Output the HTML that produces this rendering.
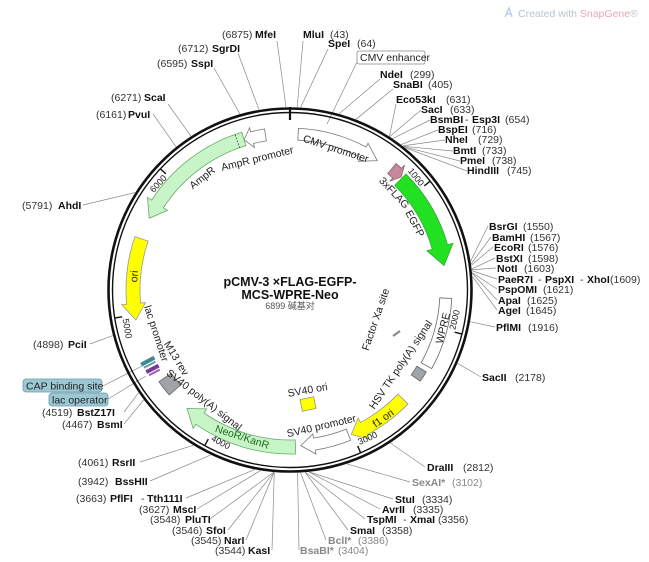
<!DOCTYPE html>
<html><head><meta charset="utf-8"><style>
html,body{margin:0;padding:0;background:#fff}
svg{display:block;font-family:"Liberation Sans","Noto Sans CJK SC",sans-serif}
.n{font-size:10.5px;fill:#333}
.b{font-size:10.5px;font-weight:bold;fill:#111}
.g{font-size:10.5px;font-weight:bold;fill:#888}
.gn{font-size:10.5px;fill:#888}
.f{font-size:10.5px;fill:#222}
.t{font-size:9px;fill:#222}
.l{stroke:#888;stroke-width:0.7;fill:none}
</style></head><body>
<svg id="s" width="649" height="562" viewBox="0 0 649 562" xmlns="http://www.w3.org/2000/svg">
<g id="shapes"></g>
<g id="lines"></g>
<circle cx="290" cy="290" r="181.5" fill="none" stroke="#111" stroke-width="2.6"/>
<circle cx="290" cy="290" r="177.5" fill="none" stroke="#111" stroke-width="1.4"/>
<line x1="290" y1="107" x2="290" y2="120" stroke="#111" stroke-width="2.2"/>

<!-- header -->
<text x="518" y="17" style="font-size:10.5px;fill:#b8c4d0">Created with <tspan fill="#e8a8b0">SnapGene</tspan>®</text>
<path d="M505 17 L509 8 L512 17 M507 14 L511 14" stroke="#b8d0e8" stroke-width="1.5" fill="none"/>

<!-- title -->
<text x="290" y="286" text-anchor="middle" style="font-size:12.5px;font-weight:bold;fill:#111">pCMV-3 ×FLAG-EGFP-</text>
<text x="290" y="299" text-anchor="middle" style="font-size:12.5px;font-weight:bold;fill:#111">MCS-WPRE-Neo</text>
<text x="290" y="309" text-anchor="middle" style="font-size:9px;fill:#555">6899 碱基对</text>

<!-- feature labels -->
<g class="f">
<text x="290" y="145" text-anchor="middle" transform="rotate(18 290 290)">CMV promoter</text>
<text x="290" y="158" text-anchor="middle" transform="rotate(-14 290 290)">AmpR promoter</text>
<text x="290" y="151" text-anchor="middle" transform="rotate(-38 290 290)">AmpR</text>
<text x="290" y="151" text-anchor="middle" transform="rotate(47 290 290)">3xFLAG</text>
<text x="290" y="152" text-anchor="middle" transform="rotate(62 290 290)">EGFP</text>
<text x="290" y="451" text-anchor="middle" transform="rotate(-76 290 290)">WPRE</text>
<text x="290" y="427" text-anchor="middle" transform="rotate(-56 290 290)">HSV TK poly(A) signal</text>
<text x="290" y="384" text-anchor="middle" transform="rotate(-71 290 290)">Factor Xa site</text>
<text x="290" y="452" text-anchor="middle" transform="rotate(-36 290 290)">f1 ori</text>
<text x="290" y="433" text-anchor="middle" transform="rotate(-13 290 290)">SV40 promoter</text>
<text x="290" y="395" text-anchor="middle" transform="rotate(-10 290 290)">SV40 ori</text>
<text x="290" y="448" text-anchor="middle" transform="rotate(18 290 290)" style="fill:#1a6a1a">NeoR/KanR</text>
<text x="290" y="433" text-anchor="middle" transform="rotate(38 290 290)">SV40 poly(A) signal</text>
<text x="290" y="426" text-anchor="middle" transform="rotate(59 290 290)">M13 rev</text>
<text x="290" y="434" text-anchor="middle" transform="rotate(72 290 290)">lac promoter</text>
<text x="290" y="137" text-anchor="middle" transform="rotate(-85 290 290)">ori</text>
</g>
<!-- tick labels -->
<g class="t">
<text x="290" y="124" text-anchor="end" transform="rotate(51.5 290 290)">1000</text>
<text x="290" y="460" text-anchor="start" transform="rotate(-76.3 290 290)">2000</text>
<text x="290" y="460" text-anchor="start" transform="rotate(-24.2 290 290)">3000</text>
<text x="290" y="460" text-anchor="start" transform="rotate(27.9 290 290)">4000</text>
<text x="290" y="460" text-anchor="start" transform="rotate(80.1 290 290)">5000</text>
<text x="290" y="124" text-anchor="end" transform="rotate(312.3 290 290)">6000</text>
</g>

<!-- CMV enhancer / lac boxes -->
<rect x="357" y="51" width="68" height="13" rx="2" fill="#fff" stroke="#888" stroke-width="0.8"/>
<text x="360" y="61" class="f">CMV enhancer</text>
<rect x="23" y="379" width="79" height="13" rx="3" fill="#9cc8d4" stroke="#6a9aa8" stroke-width="0.8"/>
<text x="26" y="389.5" class="f">CAP binding site</text>
<rect x="49" y="393" width="59" height="13" rx="3" fill="#9cc8d4" stroke="#6a9aa8" stroke-width="0.8"/>
<text x="52" y="403.5" class="f">lac operator</text>

<!-- SV40 ori square -->
<rect x="301" y="398" width="14" height="12" fill="#ffff00" stroke="#888" stroke-width="0.7" transform="rotate(-12 308 404)"/>
<line x1="393" y1="336" x2="400" y2="331" stroke="#888" stroke-width="2"/>
<!-- lac small marks -->
<g transform="rotate(-28 152 368)">
<rect x="144" y="358" width="15" height="4" fill="#3a8a90"/>
<rect x="145" y="363" width="13" height="2" fill="#6a9aa8"/>
<rect x="145" y="367" width="14" height="4" fill="#7a3a9a"/>
<rect x="146" y="372" width="12" height="2" fill="#9a5aba"/>
</g>

<!-- enzyme labels -->
<text x="222" y="38" class="n">(6875)</text><text x="255" y="38" class="b">MfeI</text>
<text x="303" y="38" class="b">MluI</text><text x="330" y="38" class="n">(43)</text>
<text x="328" y="47" class="b">SpeI</text><text x="357" y="47" class="n">(64)</text>
<text x="380" y="78" class="b">NdeI</text><text x="410" y="78" class="n">(299)</text>
<text x="393" y="88" class="b">SnaBI</text><text x="428" y="88" class="n">(405)</text>
<text x="396" y="103" class="b">Eco53kI</text><text x="446" y="103" class="n">(631)</text>
<text x="421" y="113" class="b">SacI</text><text x="450" y="113" class="n">(633)</text>
<text x="430" y="123" class="b">BsmBI</text><text x="465" y="123" class="n">-</text><text x="472" y="123" class="b">Esp3I</text><text x="505" y="123" class="n">(654)</text>
<text x="438" y="133" class="b">BspEI</text><text x="472" y="133" class="n">(716)</text>
<text x="445" y="143" class="b">NheI</text><text x="478" y="143" class="n">(729)</text>
<text x="453" y="154" class="b">BmtI</text><text x="482" y="154" class="n">(733)</text>
<text x="460" y="164" class="b">PmeI</text><text x="492" y="164" class="n">(738)</text>
<text x="467" y="174" class="b">HindIII</text><text x="507" y="174" class="n">(745)</text>
<text x="489" y="230" class="b">BsrGI</text><text x="523" y="230" class="n">(1550)</text>
<text x="492" y="241" class="b">BamHI</text><text x="530" y="241" class="n">(1567)</text>
<text x="494" y="251" class="b">EcoRI</text><text x="528" y="251" class="n">(1576)</text>
<text x="496" y="262" class="b">BstXI</text><text x="528" y="262" class="n">(1598)</text>
<text x="497" y="272" class="b">NotI</text><text x="524" y="272" class="n">(1603)</text>
<text x="498" y="283" class="b">PaeR7I</text><text x="538" y="283" class="n">-</text><text x="545" y="283" class="b">PspXI</text><text x="580" y="283" class="n">-</text><text x="587" y="283" class="b">XhoI</text><text x="610" y="283" class="n">(1609)</text>
<text x="498" y="293" class="b">PspOMI</text><text x="543" y="293" class="n">(1621)</text>
<text x="498" y="304" class="b">ApaI</text><text x="527" y="304" class="n">(1625)</text>
<text x="498" y="314" class="b">AgeI</text><text x="526" y="314" class="n">(1645)</text>
<text x="496" y="331" class="b">PflMI</text><text x="528" y="331" class="n">(1916)</text>
<text x="482" y="381" class="b">SacII</text><text x="515" y="381" class="n">(2178)</text>
<text x="427" y="471" class="b">DraIII</text><text x="463" y="471" class="n">(2812)</text>
<text x="412" y="486" class="g">SexAI*</text><text x="452" y="486" class="gn">(3102)</text>
<text x="395" y="503" class="b">StuI</text><text x="422" y="503" class="n">(3334)</text>
<text x="382" y="513" class="b">AvrII</text><text x="413" y="513" class="n">(3335)</text>
<text x="367" y="523" class="b">TspMI</text><text x="403" y="523" class="n">-</text><text x="410" y="523" class="b">XmaI</text><text x="438" y="523" class="n">(3356)</text>
<text x="350" y="534" class="b">SmaI</text><text x="382" y="534" class="n">(3358)</text>
<text x="328" y="544" class="g">BclI*</text><text x="358" y="544" class="gn">(3386)</text>
<text x="300" y="554" class="g">BsaBI*</text><text x="338" y="554" class="gn">(3404)</text>
<text x="215" y="554" class="n">(3544)</text><text x="248" y="554" class="b">KasI</text>
<text x="191" y="544" class="n">(3545)</text><text x="224" y="544" class="b">NarI</text>
<text x="172" y="534" class="n">(3546)</text><text x="206" y="534" class="b">SfoI</text>
<text x="150" y="523" class="n">(3548)</text><text x="185" y="523" class="b">PluTI</text>
<text x="139" y="513" class="n">(3627)</text><text x="173" y="513" class="b">MscI</text>
<text x="76" y="502" class="n">(3663)</text><text x="110" y="502" class="b">PflFI</text><text x="141" y="502" class="n">-</text><text x="147" y="502" class="b">Tth111I</text>
<text x="78" y="485" class="n">(3942)</text><text x="115" y="485" class="b">BssHII</text>
<text x="78" y="466" class="n">(4061)</text><text x="112" y="466" class="b">RsrII</text>
<text x="62" y="428" class="n">(4467)</text><text x="97" y="428" class="b">BsmI</text>
<text x="42" y="416" class="n">(4519)</text><text x="77" y="416" class="b">BstZ17I</text>
<text x="33" y="348" class="n">(4898)</text><text x="68" y="348" class="b">PciI</text>
<text x="22" y="209" class="n">(5791)</text><text x="58" y="209" class="b">AhdI</text>
<text x="96" y="118" class="n">(6161)</text><text x="128" y="118" class="b">PvuI</text>
<text x="111" y="101" class="n">(6271)</text><text x="144" y="101" class="b">ScaI</text>
<text x="157" y="67" class="n">(6595)</text><text x="191" y="67" class="b">SspI</text>
<text x="178" y="52" class="n">(6712)</text><text x="212" y="52" class="b">SgrDI</text>
</svg>
<script>
(function(){
var NS="http://www.w3.org/2000/svg";
function P(t,r){var a=t*Math.PI/180;return [(290+r*Math.sin(a)).toFixed(2),(290-r*Math.cos(a)).toFixed(2)];}
function add(g,tag,attrs){var e=document.createElementNS(NS,tag);for(var k in attrs)e.setAttribute(k,attrs[k]);document.getElementById(g).appendChild(e);return e;}
function arc(t1,t2,r){var p=P(t2,r);var large=Math.abs(t2-t1)>180?1:0;var sw=t2>t1?1:0;return " A"+r+" "+r+" 0 "+large+" "+sw+" "+p[0]+" "+p[1];}
function arrow(t1,t2,ri,ro,h,fill,stroke){
 var dir=t2>t1?1:-1,tb=t2-dir*h,m=(ri+ro)/2,e=(ro-ri)*0.35;
 var s=P(t1,ro),d="M"+s[0]+" "+s[1]+arc(t1,tb,ro);
 var a=P(tb,ro+e),tip=P(t2,m),b=P(tb,ri-e),c=P(tb,ri);
 d+=" L"+a.join(" ")+" L"+tip.join(" ")+" L"+b.join(" ")+" L"+c.join(" ")+arc(tb,t1,ri)+" Z";
 add("shapes","path",{d:d,fill:fill,stroke:stroke||"#666","stroke-width":0.8});
}
function box(t1,t2,ri,ro,fill){
 var s=P(t1,ro),c=P(t2,ri);
 var d="M"+s.join(" ")+arc(t1,t2,ro)+" L"+c.join(" ")+arc(t2,t1,ri)+" Z";
 add("shapes","path",{d:d,fill:fill,stroke:"#666","stroke-width":0.8});
}
arrow(3,34,150,162,6,"#fff","#777");
arrow(-9,-17,151,163,3,"#fff","#777");
arrow(-17,-63,151,165,6,"#c8f5c8","#6a6");
arrow(289,259,150,164,6,"#ffff00","#999");
arrow(45,81,148,164,7,"#22e022","#3a3");
arrow(40,44.5,152,165,2,"#c8889c","#866");
box(93,119,150,162,"#fff");
box(121,125,148,159,"#a0a4a8");
arrow(134,157,150,164,5,"#ffff00","#999");
arrow(158,176,150,162,5,"#fff","#777");
arrow(178,221,150,164,6,"#c8f5c8","#6a6");
box(229,235,145,160,"#a0a4a8");
// dotted line in AmpR
var q1=P(-19.5,151),q2=P(-19.5,165);add("shapes","line",{x1:q1[0],y1:q1[1],x2:q2[0],y2:q2[1],stroke:"#333","stroke-width":0.8,"stroke-dasharray":"1.5 1.5"});
// ticks
[1000,2000,3000,4000,5000,6000].forEach(function(v){var t=v/6899*360,a=P(t,177),b=P(t,170);add("shapes","line",{x1:a[0],y1:a[1],x2:b[0],y2:b[1],stroke:"#111","stroke-width":1.4});});
// enzyme lines [pos, x, y]
var L=[[6875,277,41],[43,303,41],[64,328,49],[299,380,79],[405,393,89],[631,396,104],[633,421,110],[654,430,120],[716,438,130],[729,445,140],[733,453,151],[738,460,161],[745,467,171],
[1550,488,226],[1567,491,237],[1576,493,247],[1598,495,258],[1603,496,268],[1609,497,279],[1621,497,289],[1625,497,300],[1645,497,310],[1916,495,327],[2178,481,377],
[2812,425,467],[3102,410,482],[3334,393,499],[3335,380,509],[3356,365,519],[3358,348,530],[3386,326,540],[3404,299,550],
[3544,272,550],[3545,246,540],[3546,228,530],[3548,210,519],[3627,197,509],[3663,186,498],[3942,150,481],[4061,140,462],[4467,124,424],[4519,124,412],[4898,90,344],[5791,83,205],[6161,153,114],[6271,168,104],[6595,214,68],[6712,238,53]];
L.forEach(function(e){var t=e[0]/6899*360,p=P(t,183);add("lines","line",{x1:p[0],y1:p[1],x2:e[1],y2:e[2],class:"l"});});
add("lines","line",{x1:357,y1:62,x2:327,y2:124,class:"l"});
add("lines","line",{x1:103,y1:386,x2:142,y2:366,class:"l"});
add("lines","line",{x1:108,y1:399,x2:146,y2:376,class:"l"});
})();
</script>
</body></html>
